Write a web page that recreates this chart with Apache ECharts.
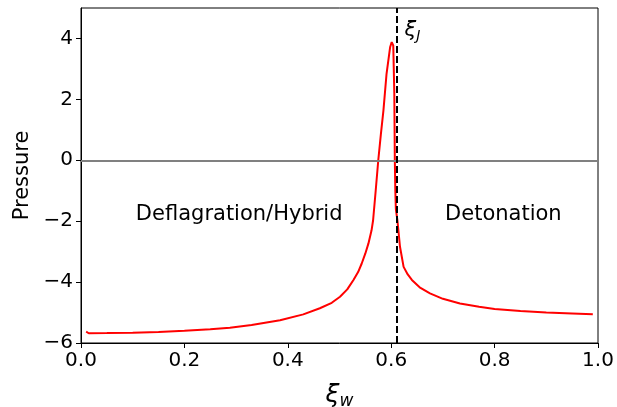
<!DOCTYPE html>
<html>
<head>
<meta charset="utf-8">
<script src="https://cdn.jsdelivr.net/npm/echarts@6/dist/echarts.min.js"></script>
<style>
body{margin:0;background:#fff}
#main{width:617px;height:407px}
</style>
</head>
<body>
<div id="main"></div>
<script>
// 曲线数据 (xi_w, pressure) 从图上读出
var xi = [0.010, 0.015, 0.05, 0.10, 0.15, 0.20, 0.25, 0.288, 0.33, 0.385, 0.43, 0.462, 0.485, 0.501, 0.515, 0.527, 0.536, 0.543, 0.550, 0.556, 0.562, 0.565, 0.570, 0.575, 0.580, 0.585, 0.591, 0.598, 0.601, 0.604, 0.606, 0.607, 0.608, 0.609, 0.612, 0.617, 0.624, 0.632, 0.640, 0.655, 0.675, 0.700, 0.733, 0.77, 0.80, 0.85, 0.90, 0.95, 0.99]
var pressure = [-5.63, -5.68, -5.675, -5.66, -5.635, -5.60, -5.55, -5.50, -5.41, -5.25, -5.06, -4.86, -4.68, -4.48, -4.24, -3.93, -3.67, -3.39, -3.06, -2.73, -2.30, -1.97, -1.00, 0.00, 0.85, 1.64, 2.84, 3.72, 3.88, 3.77, 2.2, 0.00, -1.0, -1.6, -1.97, -2.84, -3.50, -3.75, -3.93, -4.17, -4.37, -4.55, -4.70, -4.81, -4.88, -4.95, -5.00, -5.03, -5.06]
var xiJ = 0.609
// 刻度
var yTicks = [-6, -4, -2, 0, 2, 4]
// 区域文字
var regionLabels = [
    {name: 'Deflagration/Hybrid', x: 0.306, y: -1.77},
    {name: 'Detonation', x: 0.817, y: -1.77}
]

var lineData = []
for (var i = 0; i < xi.length; i++) {
    lineData.push([xi[i], pressure[i]])
}

function minus (v) {
    return String(v).replace('-', '\u2212')
}

var font = 'DejaVu Sans'
var chart = echarts.init(document.getElementById('main'))

var option = {
    animation: false,
    backgroundColor: '#fff',
    textStyle: {fontFamily: font},
    grid: {left: 81, right: 19, top: 8, bottom: 64, outerBoundsMode: 'none', containLabel: false,
        show: true, borderColor: '#000', borderWidth: 1},
    xAxis: {
        type: 'value', min: 0, max: 1, interval: 0.2,
        axisLine: {show: true, onZero: false, lineStyle: {color: '#000', width: 1}},
        axisTick: {show: true, length: 5, lineStyle: {color: '#000'}},
        splitLine: {show: false},
        axisLabel: {color: '#000', fontSize: 20, fontFamily: font, margin: 8, formatter: function (v) { return v.toFixed(1) }},
        name: '{a|ξ}{b|w}', nameLocation: 'middle', nameGap: 38,
        nameTextStyle: {rich: {
            a: {fontSize: 25, fontFamily: font, fontStyle: 'italic', color: '#000'},
            b: {fontSize: 17, fontFamily: font, fontStyle: 'italic', color: '#000', verticalAlign: 'bottom', padding: [12, 0, 0, 0]}
        }}
    },
    yAxis: {
        type: 'value', min: -6, max: 5,
        axisLine: {show: true, onZero: false, lineStyle: {color: '#000', width: 1}},
        axisTick: {show: true, length: 5, customValues: yTicks, lineStyle: {color: '#000'}},
        splitLine: {show: false},
        axisLabel: {color: '#000', fontSize: 20, fontFamily: font, margin: 8, customValues: yTicks, formatter: function (v) { return minus(v) }},
        name: 'Pressure', nameLocation: 'middle', nameGap: 47,
        nameTextStyle: {fontSize: 21, fontFamily: font, color: '#000'}
    },
    series: [
        {
            type: 'line', data: lineData, showSymbol: false, smooth: false,
            lineStyle: {color: '#ff0000', width: 2}, z: 3,
            markLine: {
                silent: true, symbol: 'none', animation: false,
                data: [
                    {yAxis: 0, lineStyle: {color: '#808080', type: 'solid', width: 2}, label: {show: false}},
                    {xAxis: xiJ, lineStyle: {color: '#000', type: [7, 3], width: 2},
                     label: {show: true, position: 'end', formatter: '{a|ξ}{b|J}', offset: [16, 40],
                        rich: {
                            a: {fontSize: 21, fontFamily: font, fontStyle: 'italic', color: '#000'},
                            b: {fontSize: 14, fontFamily: font, fontStyle: 'italic', color: '#000', verticalAlign: 'bottom', padding: [10, 0, 0, 0]}
                        }}}
                ]
            }
        },
        {
            type: 'scatter', symbolSize: 0, silent: true,
            itemStyle: {opacity: 1},
            data: regionLabels.map(function (d) { return {name: d.name, value: [d.x, d.y]} }),
            label: {show: true, position: 'inside', formatter: '{b}', color: '#000', fontSize: 21, fontFamily: font}
        }
    ]
}
chart.setOption(option)
</script>
</body>
</html>
